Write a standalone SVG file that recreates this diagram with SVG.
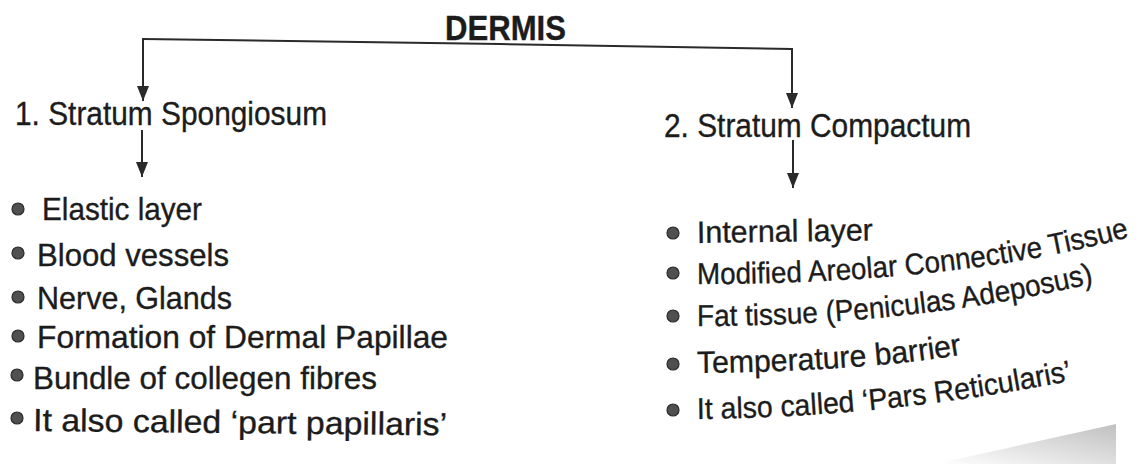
<svg xmlns="http://www.w3.org/2000/svg" width="1146" height="464" viewBox="0 0 1146 464">
<defs>
<style>
.t{font-family:"Liberation Sans",Arial,sans-serif;fill:#1c1c1c;stroke:#1c1c1c;stroke-width:0.35}
.h{font-size:33px}
.i{font-size:32px}
.b{fill:#505050;stroke:#2a2a2a;stroke-width:1.2}
.c{fill:none;stroke:#2a2a2a;stroke-width:2}
</style>
<marker id="ah" markerUnits="userSpaceOnUse" markerWidth="16" markerHeight="12" refX="15" refY="6" orient="auto" viewBox="0 0 16 12">
<path d="M0,0 L15,6 L0,12 Z" fill="#2a2a2a"/>
</marker>
<linearGradient id="sh" x1="0" y1="1" x2="1" y2="0">
<stop offset="0" stop-color="#ffffff"/>
<stop offset="1" stop-color="#b5b5b5"/>
</linearGradient>
<path id="p1" d="M697,243 L900,240"/>
<path id="p2" d="M697,284 C850,284 1000,272 1130,237 L1145,233"/>
<path id="p3" d="M697,326 C840,326 970,312 1095,283 L1120,277"/>
<path id="p4" d="M697,373 C800,372 900,366 965,354 L990,349"/>
<path id="p5" d="M697,419 C850,417 960,402 1075,380 L1100,375"/>
</defs>
<rect width="1146" height="464" fill="#ffffff"/>
<polygon points="935,464 1116,424 1116,464" fill="url(#sh)" opacity="0.85"/>

<g id="connectors">
<path class="c" d="M143,39 L500,44 L792,49"/>
<line class="c" x1="143" y1="38" x2="143" y2="101" marker-end="url(#ah)"/>
<line class="c" x1="792" y1="48" x2="792" y2="108" marker-end="url(#ah)"/>
<line class="c" x1="142" y1="130" x2="142" y2="177" marker-end="url(#ah)"/>
<line class="c" x1="793" y1="140" x2="793" y2="188" marker-end="url(#ah)"/>
</g>

<g id="dermis">
<text class="t" x="445" y="40" font-size="35" font-weight="bold" textLength="121" lengthAdjust="spacingAndGlyphs">DERMIS</text>
</g>

<g id="spongiosum">
<text class="t h" x="15" y="125" textLength="312" lengthAdjust="spacingAndGlyphs">1. Stratum Spongiosum</text>
</g>

<g id="compactum">
<text class="t h" x="664" y="137" textLength="307" lengthAdjust="spacingAndGlyphs">2. Stratum Compactum</text>
</g>

<g id="spongiosum-list">
<circle class="b" cx="18" cy="209" r="6"/>
<text class="t i" x="42" y="220" textLength="160" lengthAdjust="spacingAndGlyphs">Elastic layer</text>
<circle class="b" cx="18" cy="253" r="6"/>
<text class="t i" x="37" y="266" textLength="192" lengthAdjust="spacingAndGlyphs">Blood vessels</text>
<circle class="b" cx="18" cy="297" r="6"/>
<text class="t i" x="37" y="309" textLength="195" lengthAdjust="spacingAndGlyphs">Nerve, Glands</text>
<circle class="b" cx="18" cy="336" r="6"/>
<text class="t i" x="37" y="348" textLength="411" lengthAdjust="spacingAndGlyphs">Formation of Dermal Papillae</text>
<circle class="b" cx="17" cy="375" r="6"/>
<text class="t i" x="33" y="389" textLength="344" lengthAdjust="spacingAndGlyphs">Bundle of collegen fibres</text>
<circle class="b" cx="17" cy="418" r="6"/>
<text class="t i" x="33" y="431" textLength="414" lengthAdjust="spacingAndGlyphs" transform="rotate(0.6 33 431)">It also called ‘part papillaris’</text>
</g>

<g id="compactum-list">
<circle class="b" cx="673" cy="233" r="6"/>
<text class="t" font-size="31"><textPath href="#p1" textLength="176" lengthAdjust="spacingAndGlyphs">Internal layer</textPath></text>
<circle class="b" cx="673" cy="273" r="6"/>
<text class="t" font-size="30"><textPath href="#p2" textLength="436" lengthAdjust="spacingAndGlyphs">Modified Areolar Connective Tissue</textPath></text>
<circle class="b" cx="673" cy="316" r="6"/>
<text class="t" font-size="30"><textPath href="#p3" textLength="400" lengthAdjust="spacingAndGlyphs">Fat tissue (Peniculas Adeposus)</textPath></text>
<circle class="b" cx="673" cy="364" r="6"/>
<text class="t" font-size="31"><textPath href="#p4" textLength="266" lengthAdjust="spacingAndGlyphs">Temperature barrier</textPath></text>
<circle class="b" cx="673" cy="410" r="6"/>
<text class="t" font-size="30"><textPath href="#p5" textLength="378" lengthAdjust="spacingAndGlyphs">It also called ‘Pars Reticularis’</textPath></text>
</g>
</svg>
